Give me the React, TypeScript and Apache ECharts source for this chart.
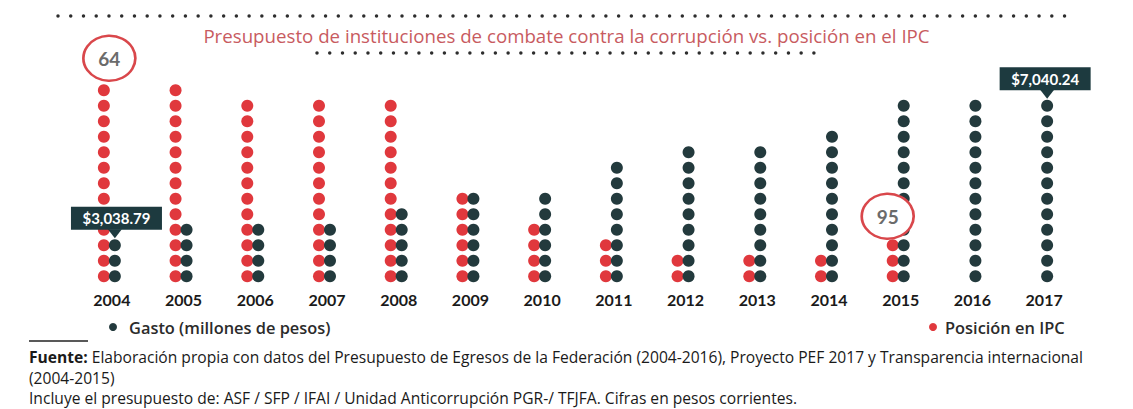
import React, { useEffect, useRef } from 'react';
import * as echarts from 'echarts';

const years = ['2004', '2005', '2006', '2007', '2008', '2009', '2010', '2011', '2012', '2013', '2014', '2015', '2016', '2017'];
// number of dots drawn per year
const gastoDots = [3, 4, 4, 4, 5, 6, 6, 8, 9, 9, 10, 12, 12, 12];
const ipcDots = [13, 13, 12, 12, 12, 6, 4, 3, 2, 2, 2, 3, 0, 0];

const gastoCalloutYears = ['2004', '2017'];
const gastoCalloutTexts = ['$3,038.79', '$7,040.24'];
const ipcCalloutYears = ['2004', '2015'];
const ipcCalloutValues = [64, 95];

const titleText = 'Presupuesto de instituciones de combate contra la corrupción vs. posición en el IPC';
const gastoName = 'Gasto (millones de pesos)';
const ipcName = 'Posición en IPC';
const sourceLabel = 'Fuente:';
const sourceLine1 = 'Elaboración propia con datos del Presupuesto de Egresos de la Federación (2004-2016), Proyecto PEF 2017 y Transparencia internacional';
const sourceLine2 = '(2004-2015)';
const sourceLine3 = 'Incluye el presupuesto de: ASF / SFP / IFAI / Unidad Anticorrupción PGR-/ TFJFA. Cifras en pesos corrientes.';

const RED = '#e0383d';
const DARK = '#233a3d';
const BOX = '#1d3a3f';
const FONT = 'Lato, "Noto Sans", sans-serif';
const OPEN = '"Open Sans", "Noto Sans", sans-serif';

const toDots = (counts: number[]) =>
  counts.flatMap((n, k) => Array.from({ length: n }, (_, i) => [years[k], i + 0.5]));

export default function App() {
  const ref = useRef<HTMLDivElement>(null);

  useEffect(() => {
    if (!ref.current) return;
    const chart = echarts.init(ref.current, null, { renderer: 'svg' });

    const ipcOffsets = [[-2.5, -32], [-13, -29]];
    const boxOffsets = [[4.6, -27], [1, -27]];
    const footSize = 15.6;

    const option: any = {
      animation: false,
      backgroundColor: '#ffffff',
      title: {
        text: titleText,
        left: 'center',
        top: 21,
        textStyle: { color: '#c85b5f', fontSize: 18.7, fontWeight: 'normal', fontFamily: OPEN },
      },
      grid: { left: 76, width: 1004, top: 67, height: 217 },
      xAxis: {
        type: 'category',
        data: years,
        axisLine: { show: false },
        axisTick: { show: false },
        splitLine: { show: false },
        axisLabel: { color: '#1a1a1a', fontSize: 16, fontWeight: 'bold', fontFamily: FONT, margin: 7 },
      },
      yAxis: { type: 'value', min: 0, max: 14, show: false },
      legend: [
        {
          data: [gastoName],
          left: 109,
          top: 319,
          padding: 0,
          icon: 'circle',
          itemWidth: 8,
          itemHeight: 8,
          selectedMode: false,
          textStyle: { fontSize: 16.4, fontWeight: 600, color: '#2b2b2b', fontFamily: OPEN, padding: [0, 0, 0, 7] },
        },
        {
          data: [ipcName],
          left: 929,
          top: 319,
          padding: 0,
          icon: 'circle',
          itemWidth: 8,
          itemHeight: 8,
          selectedMode: false,
          textStyle: { fontSize: 16.4, fontWeight: 600, color: '#2b2b2b', fontFamily: OPEN, padding: [0, 0, 0, 3] },
        },
      ],
      series: [
        {
          name: ipcName,
          type: 'scatter',
          data: toDots(ipcDots),
          symbol: 'circle',
          symbolSize: 12,
          symbolOffset: [-8, 0],
          itemStyle: { color: RED, opacity: 1 },
          z: 2,
          markPoint: {
            z: 10,
            data: ipcCalloutYears.map((y, i) => ({
              coord: [y, ipcDots[years.indexOf(y)] - 0.5],
              symbol: 'circle',
              symbolSize: [52, 45],
              symbolOffset: ipcOffsets[i],
              itemStyle: { color: '#ffffff', borderColor: '#d9474b', borderWidth: 2.5 },
              label: {
                show: true,
                position: 'inside',
                formatter: String(ipcCalloutValues[i]),
                color: '#6b6b6b',
                fontSize: 19,
                fontWeight: 'bold',
                fontFamily: FONT,
              },
            })),
          },
        },
        {
          name: gastoName,
          type: 'scatter',
          data: toDots(gastoDots),
          symbol: 'circle',
          symbolSize: 12,
          symbolOffset: [3, 0],
          itemStyle: { color: DARK, opacity: 1 },
          z: 3,
          markPoint: {
            z: 10,
            data: [
              ...gastoCalloutYears.map((y) => ({
                coord: [y, gastoDots[years.indexOf(y)] - 0.5],
                symbol: 'triangle',
                symbolRotate: 180,
                symbolSize: [14, 9],
                symbolOffset: [3, -11.5],
                itemStyle: { color: BOX },
                label: { show: false },
              })),
              ...gastoCalloutYears.map((y, i) => ({
                coord: [y, gastoDots[years.indexOf(y)] - 0.5],
                symbol: 'rect',
                symbolSize: [91, 23],
                symbolOffset: boxOffsets[i],
                itemStyle: { color: BOX },
                label: {
                  show: true,
                  position: 'inside',
                  formatter: gastoCalloutTexts[i],
                  color: '#ffffff',
                  fontSize: 15,
                  fontWeight: 'bold',
                  fontFamily: FONT,
                },
              })),
            ],
          },
        },
      ],
      graphic: [
        {
          type: 'line',
          shape: { x1: 58, y1: 16, x2: 1077, y2: 16 },
          style: { stroke: '#2d2d2d', lineWidth: 3.5, lineDash: [0.001, 12.74], lineCap: 'round' },
        },
        {
          type: 'line',
          shape: { x1: 317, y1: 53, x2: 817, y2: 53 },
          style: { stroke: '#2d2d2d', lineWidth: 3.5, lineDash: [0.001, 12.74], lineCap: 'round' },
        },
        {
          type: 'line',
          shape: { x1: 29, y1: 341, x2: 88, y2: 341 },
          style: { stroke: '#222', lineWidth: 1.5 },
        },
        {
          type: 'text',
          x: 29,
          y: 357,
          style: {
            text: '{b|' + sourceLabel + '} {r|' + sourceLine1 + '}',
            verticalAlign: 'middle',
            rich: {
              b: { fontWeight: 'bold', fontSize: footSize, fontFamily: OPEN, fill: '#1a1a1a' },
              r: { fontSize: footSize, fontFamily: OPEN, fill: '#1a1a1a' },
            },
            fontSize: footSize,
            fontFamily: OPEN,
            fill: '#1a1a1a',
          },
        },
        {
          type: 'text',
          x: 29,
          y: 377.5,
          style: { text: sourceLine2, verticalAlign: 'middle', fontSize: footSize, fontFamily: OPEN, fill: '#1a1a1a' },
        },
        {
          type: 'text',
          x: 29,
          y: 398,
          style: { text: sourceLine3, verticalAlign: 'middle', fontSize: footSize, fontFamily: OPEN, fill: '#1a1a1a' },
        },
      ],
    };

    chart.setOption(option);
    return () => chart.dispose();
  }, []);

  return (
    <div
      ref={ref}
      style={{ position: 'fixed', left: 0, top: 0, width: 1133, height: 409, background: '#fff' }}
    />
  );
}
